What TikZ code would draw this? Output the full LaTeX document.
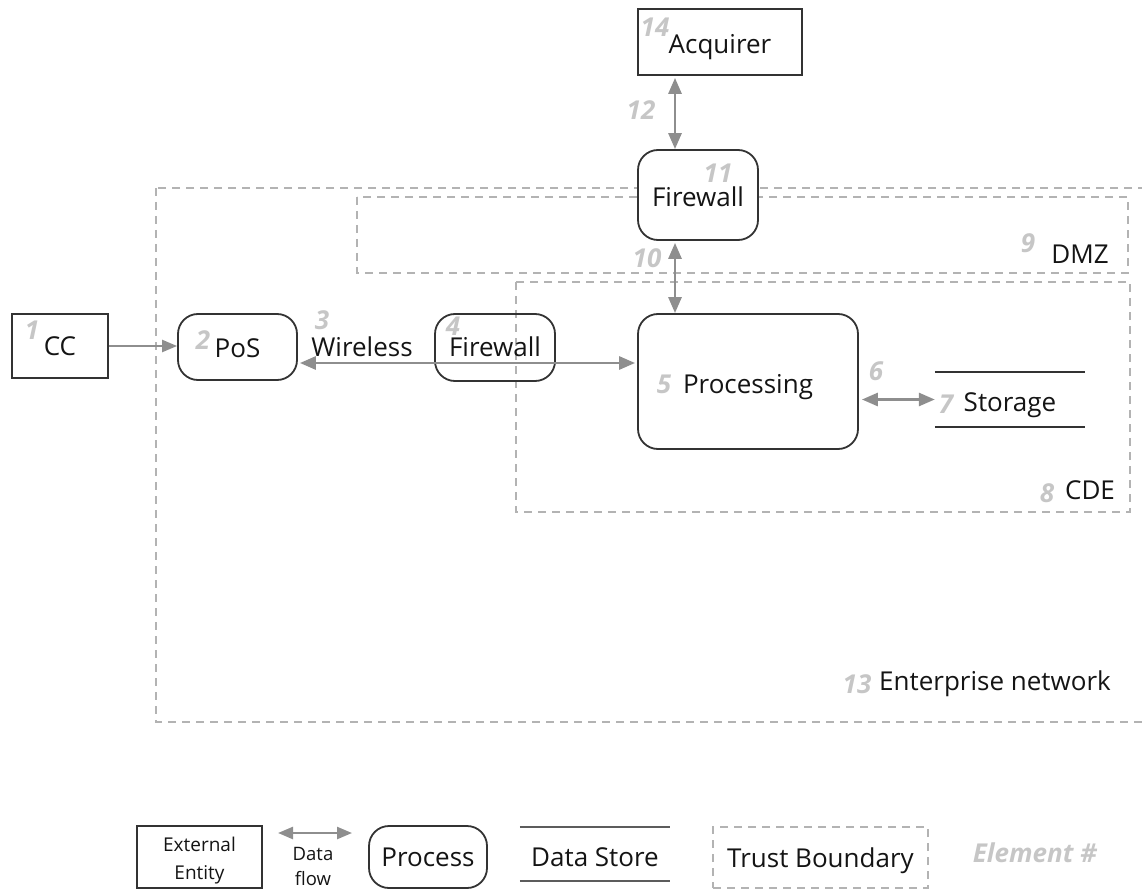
\documentclass[tikz,border=0pt]{standalone}
\usepackage{fontspec}
\setmainfont{Open Sans}
\usetikzlibrary{arrows.meta,calc}
\definecolor{boxline}{HTML}{333333}
\definecolor{flowc}{HTML}{8E8E8E}
\definecolor{numc}{HTML}{C6C6C6}
\definecolor{bndc}{HTML}{B3B3B3}
\definecolor{txt}{HTML}{141414}
\begin{document}
\begin{tikzpicture}[x=1pt,y=-1pt,
  every node/.style={font=\fontsize{26}{30}\selectfont, text=txt, inner sep=0pt},
  tc/.style={text depth=8pt, text height=#1},
  ext/.style={draw=boxline, line width=1.8pt, fill=white},
  proc/.style={draw=boxline, line width=1.8pt, rounded corners=20pt},
  flow/.style={draw=flowc, line width=2.2pt, -{Triangle[length=15pt,width=12pt]}},
  bflow/.style={draw=flowc, line width=2.8pt, {Triangle[length=16pt,width=13pt]}-{Triangle[length=16pt,width=13pt]}},
  bnd/.style={draw=bndc, line width=1.6pt, dash pattern=on 8pt off 6pt},
  num/.style={text=numc, font=\fontsize{26}{30}\selectfont\itshape\bfseries},
  storeline/.style={draw=boxline, line width=1.8pt}
]
\useasboundingbox (0,0) rectangle (1142,890);

% trust boundaries
\draw[bnd] (156,188) rectangle (1146,722);
\draw[bnd] (357,197) rectangle (1128,273);
\draw[bnd] (516,282) rectangle (1130,512);

% elements
\node[ext, tc=30.6pt, minimum width=164pt, minimum height=66pt] (Acq) at (720,42) {Acquirer};
\node[proc, tc=31.6pt, fill=white, minimum width=120pt, minimum height=90pt] (FW2) at (698,195) {Firewall};
\node[proc, tc=31.6pt, minimum width=220pt, minimum height=135pt] (Proc) at (748,381.5) {Processing};
\node[ext, tc=27.6pt, minimum width=96pt, minimum height=64pt] (CC) at (60,346) {CC};
\node[proc, tc=28.6pt, minimum width=119pt, minimum height=66pt] (PoS) at (237.5,347) {PoS};
\node[proc, tc=26.6pt, minimum width=120pt, minimum height=67pt] (FW1) at (495,347.5) {Firewall};
\node[tc=32.6pt, minimum width=150pt, minimum height=55pt] (Store) at (1010,399.5) {Storage};
\draw[storeline] (Store.north west) -- (Store.north east) (Store.south west) -- (Store.south east);

% flows
\coordinate (ax) at (675,0);
\draw[bflow, shorten <=2pt] (Acq.south -| ax) -- (FW2.north -| ax);
\draw[bflow, shorten <=2pt] (FW2.south -| ax) -- (Proc.north -| ax);
\draw[flow] (CC.east) -- (CC.east -| PoS.west);
\coordinate (wl) at ($(PoS.east)+(0,16)$);
\draw[bflow, shorten <=2pt, shorten >=2pt] (wl) -- (wl -| Proc.west);
\draw[bflow, shorten <=3pt] (Proc.east |- Store.west) -- (Store.west);

% labels
\node (Wl) at (362,347) {Wireless};
\node (DMZ) at (1080,254) {DMZ};
\node (CDE) at (1090,490) {CDE};
\node (Ent) at (995,684) {Enterprise network};

% element numbers
\node[num] (n14) at (655,27) {14};
\node[num] (n12) at (641,110) {12};
\node[num] (n11) at (718,173) {11};
\node[num] (n10) at (647,258) {10};
\node[num] (n9) at (1028,243) {9};
\node[num] (n8) at (1047,493) {8};
\node[num] (n13) at (857,684) {13};
\node[num] (n5) at (664,384) {5};
\node[num] (n6) at (876,371) {6};
\node[num] (n7) at (946,404) {7};
\node[num] (n1) at (32,330) {1};
\node[num] (n2) at (203,340) {2};
\node[num] (n3) at (322,320) {3};
\node[num] (n4) at (453,326) {4};

% legend
\node[ext, minimum width=125pt, minimum height=62pt] (LExt) at (199.5,857) {};
\node[align=center, font=\fontsize{19}{28}\selectfont] (LExtT) at (199.5,861) {External\\Entity};
\coordinate (df1) at (278,833);
\coordinate (df2) at (352,833);
\draw[draw=flowc, line width=2.4pt, {Triangle[length=15pt,width=12pt]}-{Triangle[length=15pt,width=12pt]}] (df1) -- (df2);
\node[align=center, font=\fontsize{18.5}{25}\selectfont] (LDf) at (313,866) {Data\\flow};
\node[proc, tc=27pt, minimum width=118pt, minimum height=62pt] (LProc) at (428,857) {Process};
\node[minimum width=150pt, minimum height=54pt, tc=33pt] (LDs) at (595,854) {Data Store};
\draw[storeline, draw=boxline!80] (LDs.north west) -- (LDs.north east) (LDs.south west) -- (LDs.south east);
\node[bnd, tc=28pt, minimum width=215pt, minimum height=61pt] (LTb) at (820.5,857.5) {Trust Boundary};
\node[num] (LEl) at (1035,853) {Element \#};
\end{tikzpicture}
\end{document}
